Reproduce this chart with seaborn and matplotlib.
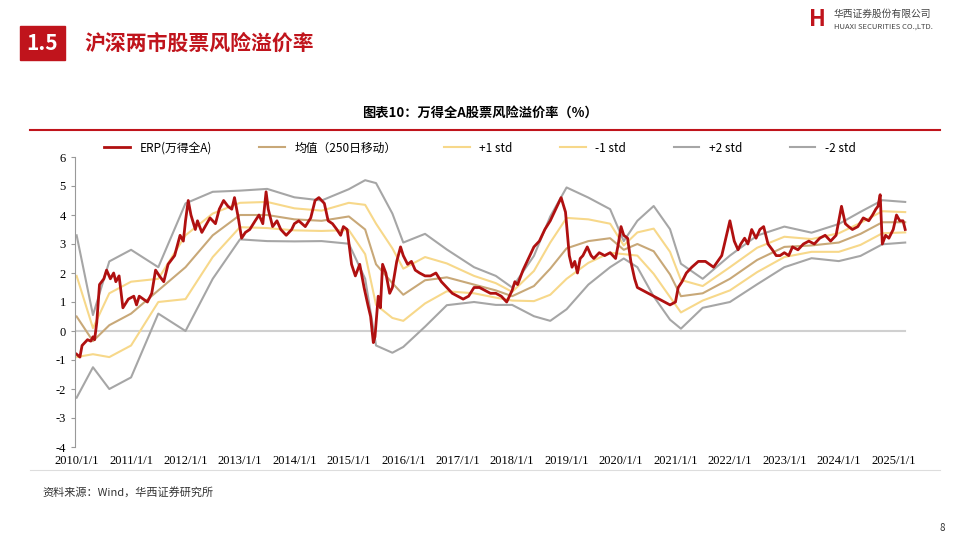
import matplotlib
matplotlib.use("Agg")
import matplotlib.pyplot as plt
import seaborn as sns
import numpy as np
import pandas as pd
from matplotlib.patches import Rectangle

plt.rcParams["font.family"] = ["Noto Sans CJK SC", "DejaVu Sans"]
plt.rcParams["axes.unicode_minus"] = False

erp_t = [2010.0,2010.06,2010.1,2010.2,2010.26,2010.3,2010.33,2010.37,2010.42,2010.5,2010.55,2010.62,2010.68,2010.72,2010.78,
 2010.85,2010.95,2011.05,2011.1,2011.15,2011.3,2011.38,2011.45,2011.52,2011.6,2011.68,2011.8,2011.9,2011.96,2012.0,
 2012.05,2012.1,2012.18,2012.22,2012.3,2012.36,2012.45,2012.55,2012.62,2012.7,2012.78,2012.85,2012.9,2012.97,
 2013.03,2013.1,2013.18,2013.28,2013.35,2013.42,2013.48,2013.52,2013.6,2013.68,2013.75,2013.85,2013.95,2014.0,
 2014.08,2014.2,2014.3,2014.38,2014.45,2014.55,2014.62,2014.7,2014.78,2014.85,2014.9,2014.97,2015.05,2015.12,
 2015.2,2015.28,2015.35,2015.4,2015.45,2015.48,2015.54,2015.58,2015.62,2015.68,2015.75,2015.8,2015.88,2015.95,
 2016.0,2016.08,2016.15,2016.22,2016.3,2016.4,2016.5,2016.6,2016.7,2016.8,2016.9,2017.0,2017.1,2017.2,2017.3,
 2017.4,2017.5,2017.6,2017.7,2017.8,2017.9,2018.0,2018.05,2018.1,2018.2,2018.3,2018.4,2018.5,2018.6,2018.7,
 2018.8,2018.9,2018.98,2019.05,2019.1,2019.15,2019.2,2019.25,2019.3,2019.38,2019.45,2019.5,2019.6,2019.7,
 2019.8,2019.9,2019.95,2020.0,2020.05,2020.12,2020.18,2020.25,2020.3,2020.4,2020.5,2020.6,2020.7,2020.8,
 2020.9,2021.0,2021.05,2021.12,2021.2,2021.3,2021.42,2021.55,2021.7,2021.85,2022.0,2022.08,2022.15,2022.2,
 2022.27,2022.33,2022.4,2022.48,2022.55,2022.62,2022.7,2022.78,2022.85,2022.92,2023.0,2023.08,2023.15,2023.25,
 2023.35,2023.45,2023.55,2023.65,2023.75,2023.85,2023.95,2024.05,2024.12,2024.18,2024.25,2024.35,2024.45,
 2024.55,2024.62,2024.68,2024.72,2024.76,2024.8,2024.86,2024.92,2025.0,2025.06,2025.12,2025.18,2025.22]
erp_v = [-0.8,-0.9,-0.5,-0.3,-0.35,-0.2,-0.3,0.3,1.6,1.8,2.1,1.8,2.0,1.7,1.9,
 0.8,1.1,1.2,0.9,1.2,1.0,1.3,2.1,1.9,1.7,2.3,2.6,3.3,3.1,3.8,
 4.5,4.0,3.5,3.8,3.4,3.6,3.9,3.7,4.2,4.5,4.3,4.2,4.6,3.9,
 3.2,3.4,3.5,3.8,4.0,3.7,4.8,4.2,3.6,3.8,3.5,3.3,3.5,3.7,
 3.8,3.6,3.9,4.5,4.6,4.4,3.8,3.7,3.5,3.3,3.6,3.5,2.3,1.9,
 2.3,1.5,0.9,0.5,-0.4,-0.2,1.2,0.8,2.3,2.0,1.3,1.5,2.4,2.9,
 2.6,2.3,2.4,2.1,2.0,1.9,1.9,2.0,1.7,1.5,1.3,1.2,1.1,1.2,1.5,
 1.5,1.4,1.3,1.3,1.2,1.0,1.4,1.7,1.6,2.1,2.5,2.9,3.1,3.5,3.8,
 4.2,4.6,4.1,2.6,2.2,2.4,2.0,2.5,2.6,2.9,2.6,2.5,2.7,2.6,
 2.7,2.5,3.0,3.6,3.3,3.2,2.4,1.8,1.5,1.4,1.3,1.2,1.1,1.0,
 0.9,1.0,1.5,1.7,2.0,2.2,2.4,2.4,2.2,2.6,3.8,3.1,2.8,3.0,
 3.2,3.0,3.5,3.2,3.5,3.6,3.0,2.8,2.6,2.6,2.7,2.6,2.9,2.8,
 3.0,3.1,3.0,3.2,3.3,3.1,3.3,4.3,3.7,3.6,3.5,3.6,3.9,
 3.8,4.0,4.2,4.3,4.7,3.0,3.3,3.2,3.5,4.0,3.8,3.8,3.5]

band_t = [2010.0,2010.3,2010.6,2011.0,2011.5,2012.0,2012.5,2013.0,2013.5,2014.0,2014.5,2015.0,2015.3,2015.5,2015.8,
 2016.0,2016.4,2016.8,2017.3,2017.7,2018.0,2018.4,2018.7,2019.0,2019.4,2019.8,2020.05,2020.3,2020.6,2020.9,
 2021.1,2021.5,2022.0,2022.5,2023.0,2023.5,2024.0,2024.4,2024.8,2025.22]
mean_v = [0.5,-0.35,0.2,0.6,1.4,2.2,3.3,4.0,4.0,3.85,3.8,3.95,3.5,2.3,1.65,
 1.25,1.75,1.85,1.6,1.4,1.2,1.55,2.15,2.85,3.1,3.2,2.8,3.0,2.75,1.95,
 1.2,1.3,1.8,2.45,2.9,2.95,3.05,3.35,3.75,3.75]
std_v = [1.4,0.45,1.1,1.1,0.4,1.1,0.75,0.42,0.45,0.38,0.35,0.47,0.85,1.4,1.2,
 0.9,0.8,0.48,0.3,0.25,0.15,0.52,0.9,1.05,0.75,0.5,0.15,0.4,0.78,0.78,
 0.56,0.25,0.4,0.42,0.35,0.22,0.32,0.38,0.38,0.35]

years = list(range(2010, 2026))
labels = [f"{y}/1/1" for y in years]

fig = plt.figure(figsize=(9.6, 5.42), dpi=100)
ax = fig.add_axes([75/960, 1-447/542, 840/960, 290/542])

m = np.array(mean_v); s = np.array(std_v)
bands = pd.DataFrame({"t": band_t, "mean": m, "p1": m+s, "m1": m-s, "p2": m+2*s, "m2": m-2*s})
erp = pd.DataFrame({"t": erp_t, "v": erp_v})

ax.axhline(0, color="#d0d0d0", lw=1.5, xmax=(2025.22-2010)/(2025.4-2010))
sns.lineplot(data=bands, x="t", y="p2", ax=ax, color="#a6a6a6", lw=1.5, label="+2 std", legend=False)
sns.lineplot(data=bands, x="t", y="m2", ax=ax, color="#a6a6a6", lw=1.5, label="-2 std", legend=False)
sns.lineplot(data=bands, x="t", y="p1", ax=ax, color="#f7d88a", lw=1.5, label="+1 std", legend=False)
sns.lineplot(data=bands, x="t", y="m1", ax=ax, color="#f7d88a", lw=1.5, label="-1 std", legend=False)
sns.lineplot(data=bands, x="t", y="mean", ax=ax, color="#c8a878", lw=1.5, label="均值（250日移动）", legend=False)
sns.lineplot(data=erp, x="t", y="v", ax=ax, color="#b01010", lw=2, label="ERP(万得全A)", legend=False)

ax.set_xlim(2009.97, 2025.4)
ax.set_ylim(-4, 6)
ax.set_yticks(range(-4, 7))
ax.set_xticks(years)
ax.set_xticklabels(labels, fontfamily="Liberation Serif", fontsize=9)
for t in ax.get_yticklabels():
    t.set_fontfamily("Liberation Serif")
ax.tick_params(axis="y", labelsize=9, length=3, color="#999999")
ax.tick_params(axis="x", length=0, pad=6)
ax.set_xlabel(""); ax.set_ylabel("")
for sp in ["top", "right", "bottom"]:
    ax.spines[sp].set_visible(False)
ax.spines["left"].set_color("#999999")

h, l = ax.get_legend_handles_labels()
order = ["ERP(万得全A)", "均值（250日移动）", "+1 std", "-1 std", "+2 std", "-2 std"]
hd = dict(zip(l, h))
fig.legend([hd[o] for o in order], order, loc="center", bbox_to_anchor=(0.5, 1-148/542), ncol=6,
           frameon=False, fontsize=8.5, columnspacing=4, handlelength=2.2)

# header
fig.patches.append(Rectangle((20/960, 1-60/542), 45/960, 34/542, transform=fig.transFigure, color="#c0141c"))
fig.text(42/960, 1-43/542, "1.5", color="white", fontsize=15, fontweight="bold", ha="center", va="center")
fig.text(84/960, 1-43/542, "沪深两市股票风险溢价率", color="#c0141c", fontsize=15, fontweight="bold", va="center")
fig.text(834/960, 1-14/542, "华西证券股份有限公司", color="#444444", fontsize=7, ha="left", va="center")
fig.text(834/960, 1-27/542, "HUAXI SECURITIES CO.,LTD.", color="#444444", fontsize=5.5, ha="left", va="center")
fig.text(817/960, 1-20/542, "H", color="#c0141c", fontsize=16, fontweight="bold", ha="center", va="center")
fig.text(480/960, 1-113/542, "图表10：万得全A股票风险溢价率（%）", fontsize=9.5, fontweight="bold", ha="center", va="center")
fig.add_artist(plt.Line2D([30/960, 940/960], [1-130/542]*2, color="#c0141c", lw=1.5))
fig.add_artist(plt.Line2D([30/960, 940/960], [1-470/542]*2, color="#dddddd", lw=0.8))
fig.text(42/960, 1-492/542, "资料来源：Wind，华西证券研究所", fontsize=8, style="italic", color="#333333", va="center")
fig.text(942/960, 1-528/542, "8", fontsize=7, color="#333333", ha="center", va="center")

fig.savefig("out.png", dpi=100)
